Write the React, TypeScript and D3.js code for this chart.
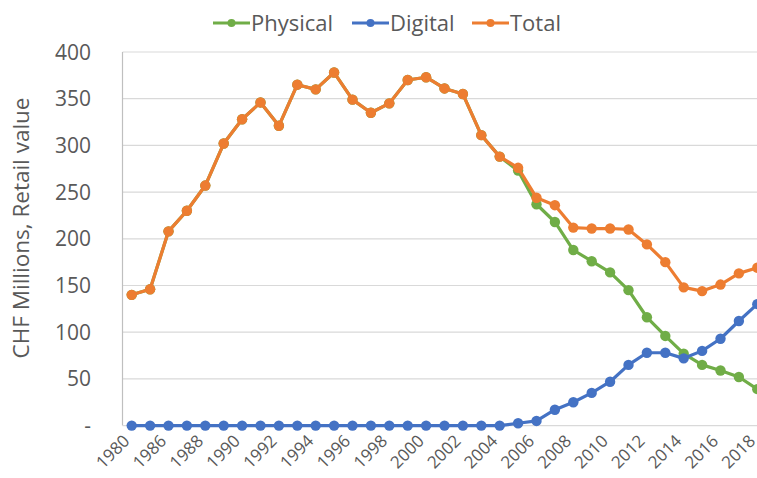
import React, { useEffect, useRef } from 'react';
import * as d3 from 'd3';

const years = ['1980', '1985', '1986', '1987', '1988', '1989', '1990', '1991', '1992', '1993', '1994', '1995',
  '1996', '1997', '1998', '1999', '2000', '2001', '2002', '2003', '2004', '2005', '2006', '2007', '2008',
  '2009', '2010', '2011', '2012', '2013', '2014', '2015', '2016', '2017', '2018'];

const total = [140, 146, 208, 230, 257, 302, 328, 346, 321, 365, 360, 378, 349, 335, 345, 370, 373, 361,
  355, 311, 288, 276, 244, 236, 212, 211, 211, 210, 194, 175, 148, 144, 151, 163, 169];

const digital = [0, 0, 0, 0, 0, 0, 0, 0, 0, 0, 0, 0, 0, 0, 0, 0, 0, 0, 0, 0, 0, 2.5, 5, 17, 25, 35, 47, 65,
  78, 78, 72, 80, 93, 112, 130];

const physical = [140, 146, 208, 230, 257, 302, 328, 346, 321, 365, 360, 378, 349, 335, 345, 370, 373, 361,
  355, 311, 288, 273, 237, 218, 188, 176, 164, 145, 116, 96, 77, 65, 59, 52, 39];

const yTicks = [0, 50, 100, 150, 200, 250, 300, 350, 400];

const seriesNames = ['Physical', 'Digital', 'Total'];
const seriesColors = ['#70AD47', '#4472C4', '#ED7D31'];

const W = 757;
const H = 478;
const font = '"Open Sans", sans-serif';

function Chart() {
  const ref = useRef<SVGSVGElement>(null);

  useEffect(() => {
    const svg = d3.select(ref.current);
    svg.selectAll('*').remove();

    const x = d3.scaleBand().domain(years).range([122.5, 766.5]);
    const y = d3.scaleLinear().domain([0, 400]).range([425.6, 52]);
    const cx = (d: string) => (x(d) as number) + x.bandwidth() / 2;

    // gridlines
    svg.append('g')
      .selectAll('line')
      .data(yTicks.filter(t => t > 0))
      .join('line')
      .attr('x1', 122.5).attr('x2', W)
      .attr('y1', d => y(d)).attr('y2', d => y(d))
      .attr('stroke', '#D9D9D9').attr('stroke-width', 1.2);

    // axes lines
    svg.append('line').attr('x1', 122.5).attr('x2', 122.5).attr('y1', y(400)).attr('y2', y(0))
      .attr('stroke', '#BFBFBF').attr('stroke-width', 1.2);
    svg.append('line').attr('x1', 122.5).attr('x2', W).attr('y1', y(0)).attr('y2', y(0))
      .attr('stroke', '#D9D9D9').attr('stroke-width', 1.2);

    // y labels
    svg.append('g')
      .selectAll('text')
      .data(yTicks)
      .join('text')
      .attr('x', 91)
      .attr('y', d => y(d))
      .attr('dy', '0.36em')
      .attr('text-anchor', 'end')
      .attr('font-family', font)
      .attr('font-size', 21)
      .attr('fill', '#595959')
      .text(d => (d === 0 ? '-' : String(d)));

    // y title
    svg.append('text')
      .attr('transform', `translate(29, 228) rotate(-90)`)
      .attr('text-anchor', 'middle')
      .attr('font-family', font)
      .attr('font-size', 22.5)
      .attr('fill', '#595959')
      .text('CHF Millions, Retail value');

    // x labels
    svg.append('g')
      .selectAll('text')
      .data(years.filter((d, i) => i % 2 === 0))
      .join('text')
      .attr('transform', d => `translate(${cx(d) - 1}, 442) rotate(-45)`)
      .attr('text-anchor', 'end')
      .attr('font-family', font)
      .attr('font-size', 17)
      .attr('fill', '#595959')
      .text(d => d);

    const data = [physical, digital, total];
    const line = d3.line<number>()
      .x((d, i) => cx(years[i]))
      .y(d => y(d));

    data.forEach((vals, si) => {
      const g = svg.append('g');
      g.append('path')
        .attr('d', line(vals))
        .attr('fill', 'none')
        .attr('stroke', seriesColors[si])
        .attr('stroke-width', 3.2)
        .attr('stroke-linejoin', 'round');
      g.selectAll('circle')
        .data(vals)
        .join('circle')
        .attr('cx', (d, i) => cx(years[i]))
        .attr('cy', d => y(d))
        .attr('r', 5.2)
        .attr('fill', seriesColors[si]);
    });

    // legend
    const legendX = [213, 352, 472];
    const legend = svg.append('g');
    seriesNames.forEach((name, i) => {
      const lx = legendX[i];
      legend.append('line')
        .attr('x1', lx).attr('x2', lx + 37)
        .attr('y1', 23).attr('y2', 23)
        .attr('stroke', seriesColors[i]).attr('stroke-width', 3.2);
      legend.append('circle')
        .attr('cx', lx + 18.5).attr('cy', 23).attr('r', 4)
        .attr('fill', seriesColors[i]);
      legend.append('text')
        .attr('x', lx + 38).attr('y', 23).attr('dy', '0.36em')
        .attr('font-family', font)
        .attr('font-size', 22)
        .attr('fill', '#595959')
        .text(name);
    });
  }, []);

  return <svg ref={ref} width={W} height={H} style={{ display: 'block' }} />;
}

export default function App() {
  return (
    <div style={{ position: 'absolute', left: 0, top: 0, width: W, height: H, overflow: 'hidden', background: '#fff' }}>
      <Chart />
    </div>
  );
}
